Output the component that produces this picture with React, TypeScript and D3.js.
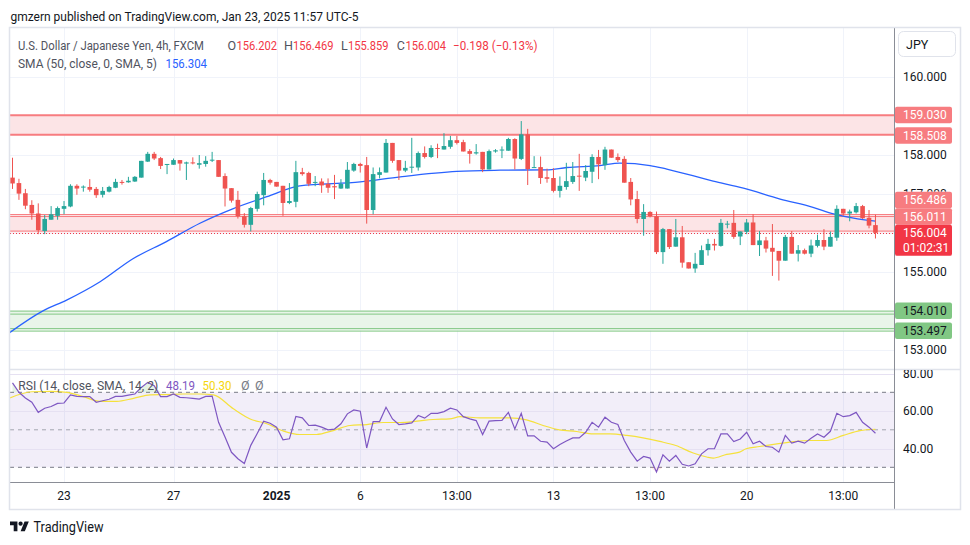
import React from "react";
import * as d3 from "d3";

// ---------- DATA ----------
const OPEN = [157.42,157.28,157.02,156.72,156.50,156.05,156.34,156.44,156.62,156.68,157.21,157.17,157.18,157.13,156.98,157.06,157.16,157.31,157.30,157.32,157.42,157.83,158.03,157.92,157.75,157.75,157.87,157.78,157.81,157.75,157.77,157.86,157.87,157.46,157.15,156.85,156.43,156.21,156.62,156.97,157.36,157.31,157.21,156.77,156.80,157.56,157.54,157.29,157.32,157.26,157.20,157.14,157.14,157.60,157.77,157.74,156.59,157.49,157.55,158.31,157.87,157.60,157.68,157.68,158.05,157.95,158.18,158.14,158.21,158.38,158.33,158.10,158.04,158.08,157.63,158.09,158.12,158.11,158.41,157.90,158.53,157.68,157.69,157.43,157.41,157.08,157.18,157.31,157.47,157.42,157.57,157.95,157.74,158.14,157.95,157.90,157.31,156.87,156.36,156.54,156.43,155.51,156.10,155.65,155.89,155.25,155.09,155.18,155.56,155.72,155.67,156.22,156.26,155.91,156.03,156.27,155.69,155.81,155.62,155.54,155.29,155.90,155.47,155.56,155.47,155.67,155.82,155.65,155.88,156.62,156.50,156.53,156.69,156.39,156.202];
const HIGH = [157.93,157.39,157.13,156.84,156.76,156.46,156.69,156.68,156.82,157.25,157.25,157.22,157.38,157.18,157.18,157.21,157.39,157.36,157.44,157.46,157.85,158.08,158.08,157.95,157.77,157.91,157.87,157.83,157.94,158.00,157.97,158.08,157.87,157.53,157.15,157.08,156.51,156.67,157.06,157.54,157.39,157.31,157.21,157.28,157.85,157.67,157.57,157.46,157.40,157.40,157.49,157.38,157.82,157.80,157.80,157.95,157.68,157.68,158.41,158.31,157.87,157.85,158.44,158.09,158.22,158.25,158.29,158.56,158.49,158.49,158.39,158.15,158.28,158.08,158.14,158.15,158.22,158.44,158.43,158.87,158.67,157.97,157.96,157.65,157.66,157.45,157.80,157.82,158.03,157.74,158.02,158.13,158.21,158.14,158.04,157.97,157.41,157.08,156.74,156.56,156.55,156.13,156.10,156.36,156.18,155.25,155.49,155.68,155.85,155.85,156.36,156.31,156.59,156.04,156.36,156.48,156.05,155.90,156.23,155.54,155.95,156.05,155.69,155.60,155.83,155.96,156.10,156.04,156.71,156.62,156.60,156.77,156.72,156.59,156.469];
const LOW = [157.13,156.85,156.61,156.34,155.97,155.97,156.34,156.34,156.48,156.66,156.98,157.06,157.06,156.90,156.91,157.04,157.15,157.24,157.29,157.31,157.42,157.82,157.87,157.64,157.51,157.75,157.60,157.36,157.76,157.65,157.70,157.82,157.44,156.68,156.78,156.37,156.14,156.04,156.55,156.71,157.24,157.19,156.44,156.74,156.66,157.47,157.20,157.20,157.03,157.03,156.87,157.13,157.14,157.57,157.55,156.24,156.48,157.40,157.55,157.80,157.36,157.56,157.54,157.60,157.91,157.92,157.92,158.14,158.16,158.27,158.09,157.78,158.01,157.56,157.63,158.06,157.92,158.11,157.63,157.87,157.23,157.68,157.26,157.29,157.04,156.91,157.11,157.26,157.08,157.33,157.28,157.38,157.62,157.93,157.82,157.29,156.71,156.25,155.93,156.40,155.46,155.21,155.59,155.65,155.11,155.09,154.98,155.18,155.42,155.55,155.65,156.12,155.85,155.69,155.97,155.69,155.41,155.50,154.90,154.78,155.29,155.47,155.27,155.45,155.38,155.63,155.56,155.65,155.80,156.44,156.30,156.50,156.36,156.12,155.859];
const CLOSE = [157.27,157.01,156.70,156.50,156.07,156.36,156.48,156.64,156.69,157.21,157.14,157.19,157.11,156.97,157.08,157.18,157.31,157.29,157.34,157.44,157.85,158.03,157.91,157.72,157.77,157.87,157.78,157.81,157.79,157.79,157.85,157.88,157.44,157.14,156.83,156.43,156.21,156.64,157.00,157.36,157.29,157.19,156.77,156.82,157.56,157.51,157.26,157.31,157.22,157.16,157.17,157.26,157.62,157.77,157.72,156.59,157.51,157.56,158.31,157.85,157.60,157.67,157.70,158.05,157.95,158.18,158.16,158.23,158.38,158.31,158.09,158.03,158.07,157.63,158.10,158.12,158.14,158.41,157.91,158.53,157.64,157.69,157.41,157.39,157.08,157.21,157.33,157.46,157.45,157.59,157.95,157.76,158.14,157.93,157.87,157.29,156.86,156.36,156.54,156.43,155.51,156.10,155.64,155.89,155.24,155.09,155.21,155.56,155.72,155.68,156.26,156.24,155.90,156.04,156.27,155.69,155.81,155.60,155.52,155.29,155.90,155.47,155.56,155.47,155.68,155.82,155.65,155.90,156.62,156.50,156.55,156.69,156.38,156.19,156.004];

// SMA(50) of price, read at sparse candle positions
const SMA_IDX = [-1,4.8,8.4,13.6,18.7,23.9,29.1,34.2,39.5,44.6,54,60.2,69,75.7,82.9,86.1,91.2,94.3,99,101.6,108.8,113.5,119.2,124.3,127.5,130.6,134];
const SMA_VAL = [153.38,154.01,154.28,154.75,155.34,155.78,156.25,156.62,156.93,157.21,157.31,157.44,157.58,157.61,157.62,157.68,157.73,157.79,157.73,157.64,157.33,157.15,156.87,156.66,156.49,156.38,156.304];

// RSI(14) per candle
const RSI = [75,70,67,64.7,59.3,61.5,62.4,64.1,64.3,68.6,67.8,67.7,67.7,64.7,65.5,66.3,67.8,67.8,68.5,69.1,72.6,75.3,73.5,67.7,67.7,69.1,67.3,67.1,66.8,66.4,67.8,68.0,54,46.1,38,34.6,32.0,41.7,48,54.6,53.5,51.4,44.7,45.2,57.1,56.4,52.3,52.5,51.4,50,50.4,53.2,58.5,60.6,59.9,40.3,54.4,54.4,62,55.8,52.8,53.2,53.7,57.6,56.2,58.8,58.8,59.7,61.5,60.6,57,55.8,54.9,47.5,54.6,54.9,55,59.3,50.5,58.8,46.8,46.8,43.9,43.4,39.9,42.2,44,45.7,45.7,48.7,54.0,51.4,56.7,54.0,52.8,44.3,38.1,33.3,35.8,34.9,27.5,36.7,33.3,36.3,31.6,30.7,31.9,37.2,39.9,39.9,47.8,47.8,43.7,45.1,48.7,42.5,43.9,41.1,40.7,38.1,47.0,42.9,43.9,42.9,45.5,47.8,46.0,49.2,58.8,57.0,57.6,59.3,54.0,51.4,48.19];

// SMA(14) of RSI, read at sparse candle positions
const RSI_MA_IDX = [-0.4,3,6,8.4,11,13.6,16.2,18.8,21.4,24,26.5,29.1,31.2,34.3,36.9,39.5,42.1,44.6,47.2,49.8,52.4,55,57.6,60.2,62.8,65.3,67.9,69.5,72.6,77.2,79.8,82.4,84.9,87.6,90.2,92.8,95.4,97.9,100.5,103,105.7,107.8,108.8,110.9,112.9,113.9,116,118.7,121.3,123.8,126.4,129,131.6,134];
const RSI_MA_VAL = [67,70.3,70.5,70,67.7,65.2,65.2,66.8,68.6,68.8,69.1,69.1,68.6,61.2,55.8,53.2,49.3,47.5,47.5,49.6,52.3,52.8,53.9,53.9,54.6,55.5,55.8,57.0,56.4,56.4,55.3,52.3,50,49.1,47.8,47.8,47,45.7,43.8,41.6,37.6,35.5,34.9,36.9,38.1,39.9,41.1,42.5,43.7,44.3,44.3,47,49.6,50.3];

const PRICE_TICKS = [153, 154, 155, 156, 157, 158, 159, 160];
const RSI_TICKS = [40, 60, 80];
const RSI_GRID = [40, 60, 80];
const TIME_TICK_IDX = [8, 25, 41, 54, 69, 84, 99, 114, 129];
const TIME_TICK_LABELS = ["23", "27", "2025", "6", "13:00", "13", "13:00", "20", "13:00"];
const RED_ZONE_TOP = [159.030, 158.508];
const RED_ZONE_MID = [156.486, 156.011];
const GREEN_ZONE = [154.010, 153.497];
const LAST_PRICE = 156.004;
const COUNTDOWN = "01:02:31";
const OHLC_KEYS = ["O", "H", "L", "C"];
const OHLC_VALS = [156.202, 156.469, 155.859, 156.004];
const OHLC_X = [227.5, 284, 341, 396.8];
const OHLC_VX = [236.5, 293, 348, 405.5];
const CHANGE_TEXT = "−0.198 (−0.13%)";

const FONT = "Roboto, 'Liberation Sans', Arial, sans-serif";
const UP = "#26a69a";
const DOWN = "#ef5350";

export default function App() {
  const PL = 10, PR = 894, PT = 28, PB = 369;
  const RT = 370, RB = 482;
  const x = d3.scaleLinear().domain([0, 134]).range([12.5, 875.46]);
  const y = d3.scaleLinear().domain([153, 160]).range([350, 77]);
  const yr = d3.scaleLinear().domain([30, 70]).range([467.3, 392.3]);
  const bodyW = 4.6;

  const smaPath = d3.line<number>()
    .x((_, k) => x(SMA_IDX[k]))
    .y((d) => y(d))
    .curve(d3.curveMonotoneX)(SMA_VAL) || "";

  const rsiPath = d3.line<number>()
    .x((_, k) => x(k))
    .y((d) => yr(d))(RSI) || "";

  const rsiMaPath = d3.line<number>()
    .x((_, k) => x(RSI_MA_IDX[k]))
    .y((d) => yr(d))
    .curve(d3.curveMonotoneX)(RSI_MA_VAL) || "";

  const obArea = d3.area<number>()
    .x((_, k) => x(k))
    .y0(yr(70))
    .y1((d) => yr(Math.max(d, 70)))(RSI) || "";
  const osArea = d3.area<number>()
    .x((_, k) => x(k))
    .y0(yr(30))
    .y1((d) => yr(Math.min(d, 30)))(RSI) || "";

  const fmt3 = d3.format(".3f");
  const fmt2 = d3.format(".2f");

  const curTop = y(LAST_PRICE) - 8;
  const axisX = 895, boxW = 57;
  const midTop = curTop - 33.2;

  const boxes = [
    { v: RED_ZONE_TOP[0], top: y(RED_ZONE_TOP[0]) - 8, fill: "#f77c80", txt: "#ffffff" },
    { v: RED_ZONE_TOP[1], top: y(RED_ZONE_TOP[1]) - 8, fill: "#f77c80", txt: "#ffffff" },
    { v: RED_ZONE_MID[0], top: midTop, fill: "#f77c80", txt: "#ffffff" },
    { v: RED_ZONE_MID[1], top: curTop - 16.5, fill: "#f77c80", txt: "#ffffff" },
    { v: GREEN_ZONE[0], top: y(GREEN_ZONE[0]) - 8, fill: "#81c784", txt: "#131722" },
    { v: GREEN_ZONE[1], top: y(GREEN_ZONE[1]) - 8, fill: "#81c784", txt: "#131722" },
  ];

  return (
    <svg
      width={970}
      height={545}
      viewBox="0 0 970 545"
      style={{ position: "absolute", left: 0, top: 0, background: "#ffffff" }}
      fontFamily={FONT}
    >
      <defs>
        <clipPath id="pricePane">
          <rect x={PL} y={PT} width={PR - PL} height={PB - PT} />
        </clipPath>
        <clipPath id="rsiPane">
          <rect x={PL} y={RT} width={PR - PL} height={RB - RT} />
        </clipPath>
        <clipPath id="rsiAxis">
          <rect x={PR} y={RT} width={70} height={RB - RT} />
        </clipPath>
        <clipPath id="hiddenTick">
          <rect x={PR} y={midTop - 8} width={70} height={8} />
        </clipPath>
      </defs>

      <rect x={0} y={0} width={970} height={545} fill="#ffffff" />

      {/* attribution */}
      <text x={10.5} y={16} fontSize={13} fill="#131722" dominantBaseline="central" textLength={348} lengthAdjust="spacingAndGlyphs">
        gmzern published on TradingView.com, Jan 23, 2025 11:57 UTC-5
      </text>

      {/* grids */}
      <g stroke="#f0f3fa" strokeWidth={1}>
        {TIME_TICK_IDX.map((t, k) => (
          <line key={"vg" + k} x1={Math.round(x(t)) + 0.5} x2={Math.round(x(t)) + 0.5} y1={PT} y2={RB} />
        ))}
        {PRICE_TICKS.map((p) => (
          <line key={"hg" + p} x1={PL} x2={PR} y1={Math.round(y(p)) + 0.5} y2={Math.round(y(p)) + 0.5} />
        ))}
      </g>

      {/* zones */}
      <g clipPath="url(#pricePane)">
        <rect x={PL} width={PR - PL} y={y(RED_ZONE_TOP[0])} height={y(RED_ZONE_TOP[1]) - y(RED_ZONE_TOP[0])} fill="#fce4e6" />
        <line x1={PL} x2={PR} y1={y(RED_ZONE_TOP[0]) + 0.5} y2={y(RED_ZONE_TOP[0]) + 0.5} stroke="#f77c80" strokeWidth={2} />
        <line x1={PL} x2={PR} y1={y(RED_ZONE_TOP[1]) - 0.5} y2={y(RED_ZONE_TOP[1]) - 0.5} stroke="#f77c80" strokeWidth={2} />

        <rect x={PL} width={PR - PL} y={y(RED_ZONE_MID[0])} height={y(RED_ZONE_MID[1]) - y(RED_ZONE_MID[0])} fill="#fce4e6" />
        <line x1={PL} x2={PR} y1={y(RED_ZONE_MID[0]) + 0.5} y2={y(RED_ZONE_MID[0]) + 0.5} stroke="#f77c80" strokeWidth={1} />
        <line x1={PL} x2={PR} y1={y(RED_ZONE_MID[0]) + 2.5} y2={y(RED_ZONE_MID[0]) + 2.5} stroke="#f77c80" strokeWidth={1} />
        <line x1={PL} x2={PR} y1={y(RED_ZONE_MID[1]) - 1.5} y2={y(RED_ZONE_MID[1]) - 1.5} stroke="#f77c80" strokeWidth={1} />

        <rect x={PL} width={PR - PL} y={y(GREEN_ZONE[0])} height={y(GREEN_ZONE[1]) - y(GREEN_ZONE[0])} fill="#e8f5e9" />
        <line x1={PL} x2={PR} y1={y(GREEN_ZONE[0]) + 0.5} y2={y(GREEN_ZONE[0]) + 0.5} stroke="#81c784" strokeWidth={1} />
        <line x1={PL} x2={PR} y1={y(GREEN_ZONE[0]) + 3.5} y2={y(GREEN_ZONE[0]) + 3.5} stroke="#81c784" strokeWidth={1} />
        <line x1={PL} x2={PR} y1={y(GREEN_ZONE[1]) - 2} y2={y(GREEN_ZONE[1]) - 2} stroke="#81c784" strokeWidth={1} />
        <line x1={PL} x2={PR} y1={y(GREEN_ZONE[1]) + 0.5} y2={y(GREEN_ZONE[1]) + 0.5} stroke="#81c784" strokeWidth={1} />

        {/* current price dotted line */}
        <line x1={PL} x2={PR} y1={Math.round(y(LAST_PRICE)) + 0.5} y2={Math.round(y(LAST_PRICE)) + 0.5} stroke="#f23645" strokeWidth={1} strokeDasharray="1,2" />

        {/* SMA line */}
        <path d={smaPath} fill="none" stroke="#2962ff" strokeWidth={1.3} />

        {/* candles */}
        {OPEN.map((o, i) => {
          const c = CLOSE[i];
          const up = c >= o;
          const col = up ? UP : DOWN;
          const cx = x(i);
          const top = y(Math.max(o, c));
          const bot = y(Math.min(o, c));
          return (
            <g key={"c" + i}>
              <line x1={cx} x2={cx} y1={y(HIGH[i])} y2={y(LOW[i])} stroke={col} strokeWidth={1} />
              <rect x={cx - bodyW / 2} y={top} width={bodyW} height={Math.max(1, bot - top)} fill={col} />
            </g>
          );
        })}
      </g>

      {/* legend */}
      <g fontSize={12.5} dominantBaseline="central">
        <text x={18} y={45.5} fill="#50535e" textLength={186} lengthAdjust="spacingAndGlyphs">U.S. Dollar / Japanese Yen, 4h, FXCM</text>
        {OHLC_KEYS.map((k, i) => (
          <text key={"ok" + k} x={OHLC_X[i]} y={45.5} fill="#50535e">{k}</text>
        ))}
        {OHLC_VALS.map((v, i) => (
          <text key={"ov" + i} x={OHLC_VX[i]} y={45.5} fill="#f23645" textLength={40.5} lengthAdjust="spacingAndGlyphs">{fmt3(v)}</text>
        ))}
        <text x={453} y={45.5} fill="#f23645" textLength={84.5} lengthAdjust="spacingAndGlyphs">{CHANGE_TEXT}</text>
        <text x={18} y={63.5} fill="#50535e" textLength={139} lengthAdjust="spacingAndGlyphs">SMA (50, close, 0, SMA, 5)</text>
        <text x={165.5} y={63.5} fill="#2962ff" textLength={41.5} lengthAdjust="spacingAndGlyphs">{fmt3(SMA_VAL[SMA_VAL.length - 1])}</text>
      </g>

      {/* RSI pane */}
      <rect x={PL} y={yr(70)} width={PR - PL} height={yr(30) - yr(70)} fill="#7e57c2" fillOpacity={0.1} />
      <g stroke="#e6e1f2" strokeWidth={1}>
        {RSI_GRID.map((v) => (
          <line key={"rg" + v} x1={PL} x2={PR} y1={Math.round(yr(v)) + 0.5} y2={Math.round(yr(v)) + 0.5} />
        ))}
      </g>
      <line x1={PL} x2={PR} y1={yr(70)} y2={yr(70)} stroke="#787b86" strokeDasharray="4,4" strokeWidth={1} />
      <line x1={PL} x2={PR} y1={yr(50)} y2={yr(50)} stroke="#a3a6af" strokeDasharray="4,4" strokeWidth={1} />
      <line x1={PL} x2={PR} y1={yr(30)} y2={yr(30)} stroke="#787b86" strokeDasharray="4,4" strokeWidth={1} />
      <g clipPath="url(#rsiPane)">
        <path d={obArea} fill="#4caf50" fillOpacity={0.15} />
        <path d={osArea} fill="#f23645" fillOpacity={0.12} />
        <path d={rsiMaPath} fill="none" stroke="#f5e13c" strokeWidth={1.2} />
        <path d={rsiPath} fill="none" stroke="#7e57c2" strokeWidth={1.2} />
      </g>
      <g fontSize={12.5} dominantBaseline="central">
        <text x={18.3} y={385} fill="#50535e" textLength={140} lengthAdjust="spacingAndGlyphs">RSI (14, close, SMA, 14, 2)</text>
        <text x={166} y={385} fill="#7e57c2" textLength={29} lengthAdjust="spacingAndGlyphs">{fmt2(RSI[RSI.length - 1])}</text>
        <text x={202.5} y={385} fill="#f5d60b" textLength={29} lengthAdjust="spacingAndGlyphs">{fmt2(RSI_MA_VAL[RSI_MA_VAL.length - 1])}</text>
        <text x={241} y={385} fill="#787b86">Ø</text>
        <text x={255} y={385} fill="#787b86">Ø</text>
      </g>

      {/* pane separator */}
      <line x1={PL} x2={961} y1={369.5} y2={369.5} stroke="#e0e3eb" strokeWidth={1.5} />

      {/* price axis */}
      <g fontSize={12} fill="#131722" dominantBaseline="central">
        {PRICE_TICKS.map((p) => (
          <text key={"pt" + p} x={903} y={y(p)} clipPath={p === 157 ? "url(#hiddenTick)" : undefined}>{fmt3(p)}</text>
        ))}
      </g>
      {boxes.map((b, k) => (
        <g key={"bx" + k}>
          <rect x={axisX} y={b.top} width={boxW} height={16.5} rx={2} fill={b.fill} />
          <text x={903} y={b.top + 8.5} fontSize={12} fill={b.txt} dominantBaseline="central">{fmt3(b.v)}</text>
        </g>
      ))}
      <rect x={axisX} y={curTop} width={boxW} height={31} rx={2} fill="#f23645" />
      <text x={903} y={curTop + 8.5} fontSize={12} fill="#ffffff" dominantBaseline="central">{fmt3(LAST_PRICE)}</text>
      <text x={903} y={curTop + 23} fontSize={12} fill="#ffffff" dominantBaseline="central">{COUNTDOWN}</text>

      {/* RSI axis */}
      <g fontSize={12} fill="#131722" dominantBaseline="central" clipPath="url(#rsiAxis)">
        {RSI_TICKS.map((v) => (
          <text key={"ra" + v} x={903} y={yr(v)}>{fmt2(v)}</text>
        ))}
      </g>

      {/* JPY button */}
      <rect x={898.5} y={31.5} width={57} height={25} rx={5} fill="#ffffff" stroke="#e0e3eb" />
      <text x={906} y={44} fontSize={12.5} fill="#131722" dominantBaseline="central">JPY</text>

      {/* time axis */}
      <line x1={PL} x2={PR} y1={482.5} y2={482.5} stroke="#8a8d96" strokeWidth={1} />
      <g fontSize={12} fill="#131722" textAnchor="middle" dominantBaseline="central">
        {TIME_TICK_IDX.map((t, k) => (
          <text key={"tt" + k} x={x(t)} y={496} fontWeight={TIME_TICK_LABELS[k] === "2025" ? 700 : 400}>
            {TIME_TICK_LABELS[k]}
          </text>
        ))}
      </g>

      {/* axis border */}
      <line x1={894.5} x2={894.5} y1={PT} y2={509} stroke="#8a8d96" strokeWidth={1} />

      {/* outer frame */}
      <rect x={9.5} y={27.5} width={951} height={482} fill="none" stroke="#e0e3eb" strokeWidth={1.5} />

      {/* logo */}
      <g transform="translate(10,519.5) scale(0.53)" fill="#131722">
        <path d="M14 22H7V11H0V4h14v18zM28 22h-8l7.5-18h8L28 22z" />
        <circle cx={20} cy={8} r={4} />
      </g>
      <text x={33.5} y={527} fontSize={14} fill="#131722" dominantBaseline="central" textLength={70} lengthAdjust="spacingAndGlyphs">TradingView</text>
    </svg>
  );
}
